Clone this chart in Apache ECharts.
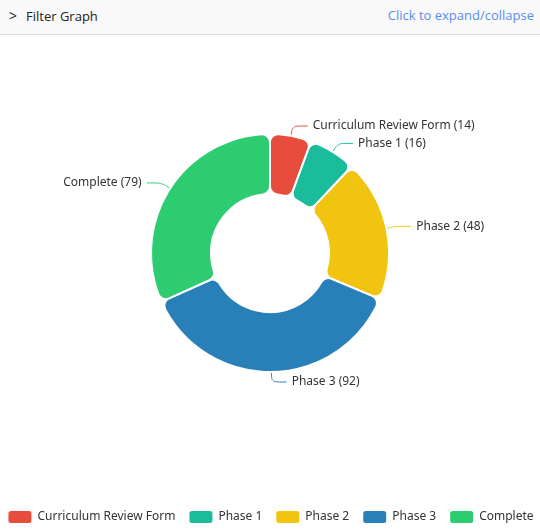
<!DOCTYPE html>
<html>
<head>
<meta charset="utf-8">
<script src="https://cdn.jsdelivr.net/npm/echarts@6/dist/echarts.min.js"></script>
<style>
html,body{margin:0;padding:0;background:#fff;}
#hdr{position:absolute;left:0;top:0;width:540px;height:34px;background:#f9f9f9;border-bottom:1px solid #dcdcdc;font-family:"Open Sans",Lato,sans-serif;font-size:13px;}
#hdr .l{position:absolute;left:9px;top:6px;color:#222;}
#hdr .l span{margin-right:9px;font-size:14px;}
#hdr .r{position:absolute;right:6px;top:6px;color:#5b8def;}
#chart{position:absolute;left:0;top:35px;width:540px;height:494px;}
</style>
</head>
<body>
<div id="hdr"><div class="l"><span>&gt;</span>Filter Graph</div><div class="r">Click to expand/collapse</div></div>
<div id="chart"></div>
<script>
const categories = ["Curriculum Review Form", "Phase 1", "Phase 2", "Phase 3", "Complete"];
const values = [14, 16, 48, 92, 79];
const colors = ["#e74c3c", "#1abc9c", "#f1c40f", "#2980b9", "#2ecc71"];

const chart = echarts.init(document.getElementById('chart'));
chart.setOption({
  color: colors,
  textStyle: { fontFamily: '"Noto Sans", sans-serif' },
  legend: {
    bottom: -1,
    left: 'center',
    icon: 'roundRect',
    itemWidth: 25,
    itemHeight: 14,
    itemGap: 12,
    textStyle: { color: '#333', fontSize: 12, fontFamily: '"Noto Sans", sans-serif' },
    data: categories
  },
  series: [{
    type: 'pie',
    center: [270, 218],
    radius: [59, 119],
    startAngle: 90,
    itemStyle: { borderRadius: 8, borderColor: '#fff', borderWidth: 2 },
    label: { formatter: '{b} ({c})', color: '#333', fontSize: 12, fontFamily: '"Noto Sans", sans-serif', padding: [4, 0, 0, 0] },
    labelLine: { length: 10, length2: 15, smooth: true },
    data: categories.map((c, i) => ({ name: c, value: values[i] }))
  }]
});
</script>
</body>
</html>
